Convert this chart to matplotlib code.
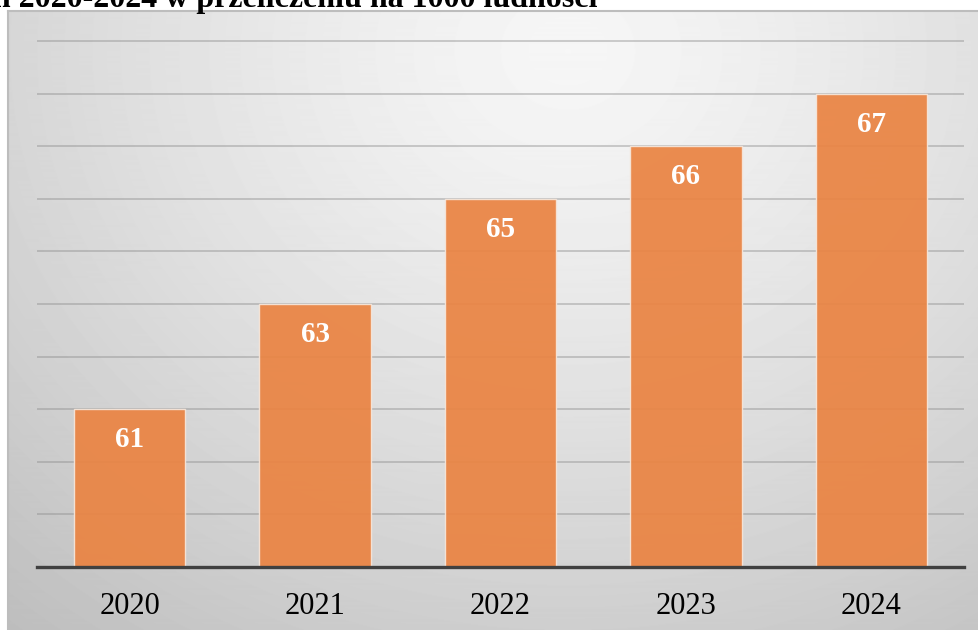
import numpy as np
import matplotlib
matplotlib.use("Agg")
import matplotlib.pyplot as plt

years = ["2020", "2021", "2022", "2023", "2024"]
values = [61, 63, 65, 66, 67]
title = "w latach 2020-2024 w przeliczeniu na 1000 ludności"

W, H = 979, 630
fig = plt.figure(figsize=(W / 100, H / 100), dpi=100)

# chart area background with soft radial gradient
bg = fig.add_axes([8 / W, 0, 1 - 8 / W, 1 - 11 / H])
yy, xx = np.mgrid[0:620, 0:971]
r = np.sqrt(((xx - 560) / 800.0) ** 2 + ((yy - 40) / 700.0) ** 2)
shade = 0.965 - 0.2 * np.clip(r, 0, 1.2) ** 1.3
bg.imshow(shade, cmap="gray", vmin=0, vmax=1, aspect="auto",
          extent=(0, 1, 0, 1), origin="upper")
bg.set_xlim(0, 1)
bg.set_ylim(0, 1)
for s in ["right", "bottom"]:
    bg.spines[s].set_visible(False)
for s in ["top", "left"]:
    bg.spines[s].set_color("#bdbdbd")
    bg.spines[s].set_linewidth(1.5)
bg.set_xticks([])
bg.set_yticks([])

ax = fig.add_axes([37 / W, 1 - 567 / H, (964 - 37) / W, (567 - 20) / H])
ax.patch.set_alpha(0)
x = np.arange(len(years))
bars = ax.bar(x, values, width=0.6, bottom=0, color="#EA8443", alpha=0.93,
              edgecolor="#f6e6da", linewidth=1, zorder=3)

ax.set_ylim(58, 58 + (567 - 20) / 52.6)
ax.set_xlim(-0.5, len(years) - 0.5)
ax.set_yticks(np.arange(59, 69, 1))
ax.yaxis.grid(True, color="#8c8c8c", alpha=0.45, linewidth=1.3, zorder=1)
ax.set_axisbelow(True)
ax.tick_params(axis="y", length=0, labelleft=False)
ax.tick_params(axis="x", length=0, pad=18)
ax.set_xticks(x)
ax.set_xticklabels(years, fontfamily="Liberation Serif", fontsize=22, color="black")
for s in ["top", "right", "left"]:
    ax.spines[s].set_visible(False)
ax.spines["bottom"].set_color("#404040")
ax.spines["bottom"].set_linewidth(2.4)
ax.spines["bottom"].set_zorder(4)

for xi, v in zip(x, values):
    ax.annotate(str(v), (xi, v), xytext=(0, -22), textcoords="offset points",
                ha="center", va="center", color="white", fontsize=21,
                fontweight="bold", fontfamily="Liberation Serif", zorder=5)

fig.text(597 / W, 1 - 7 / H, title, ha="right", va="baseline",
         fontsize=23, fontweight="bold", fontfamily="Liberation Serif")

fig.savefig("out.png", dpi=100)
